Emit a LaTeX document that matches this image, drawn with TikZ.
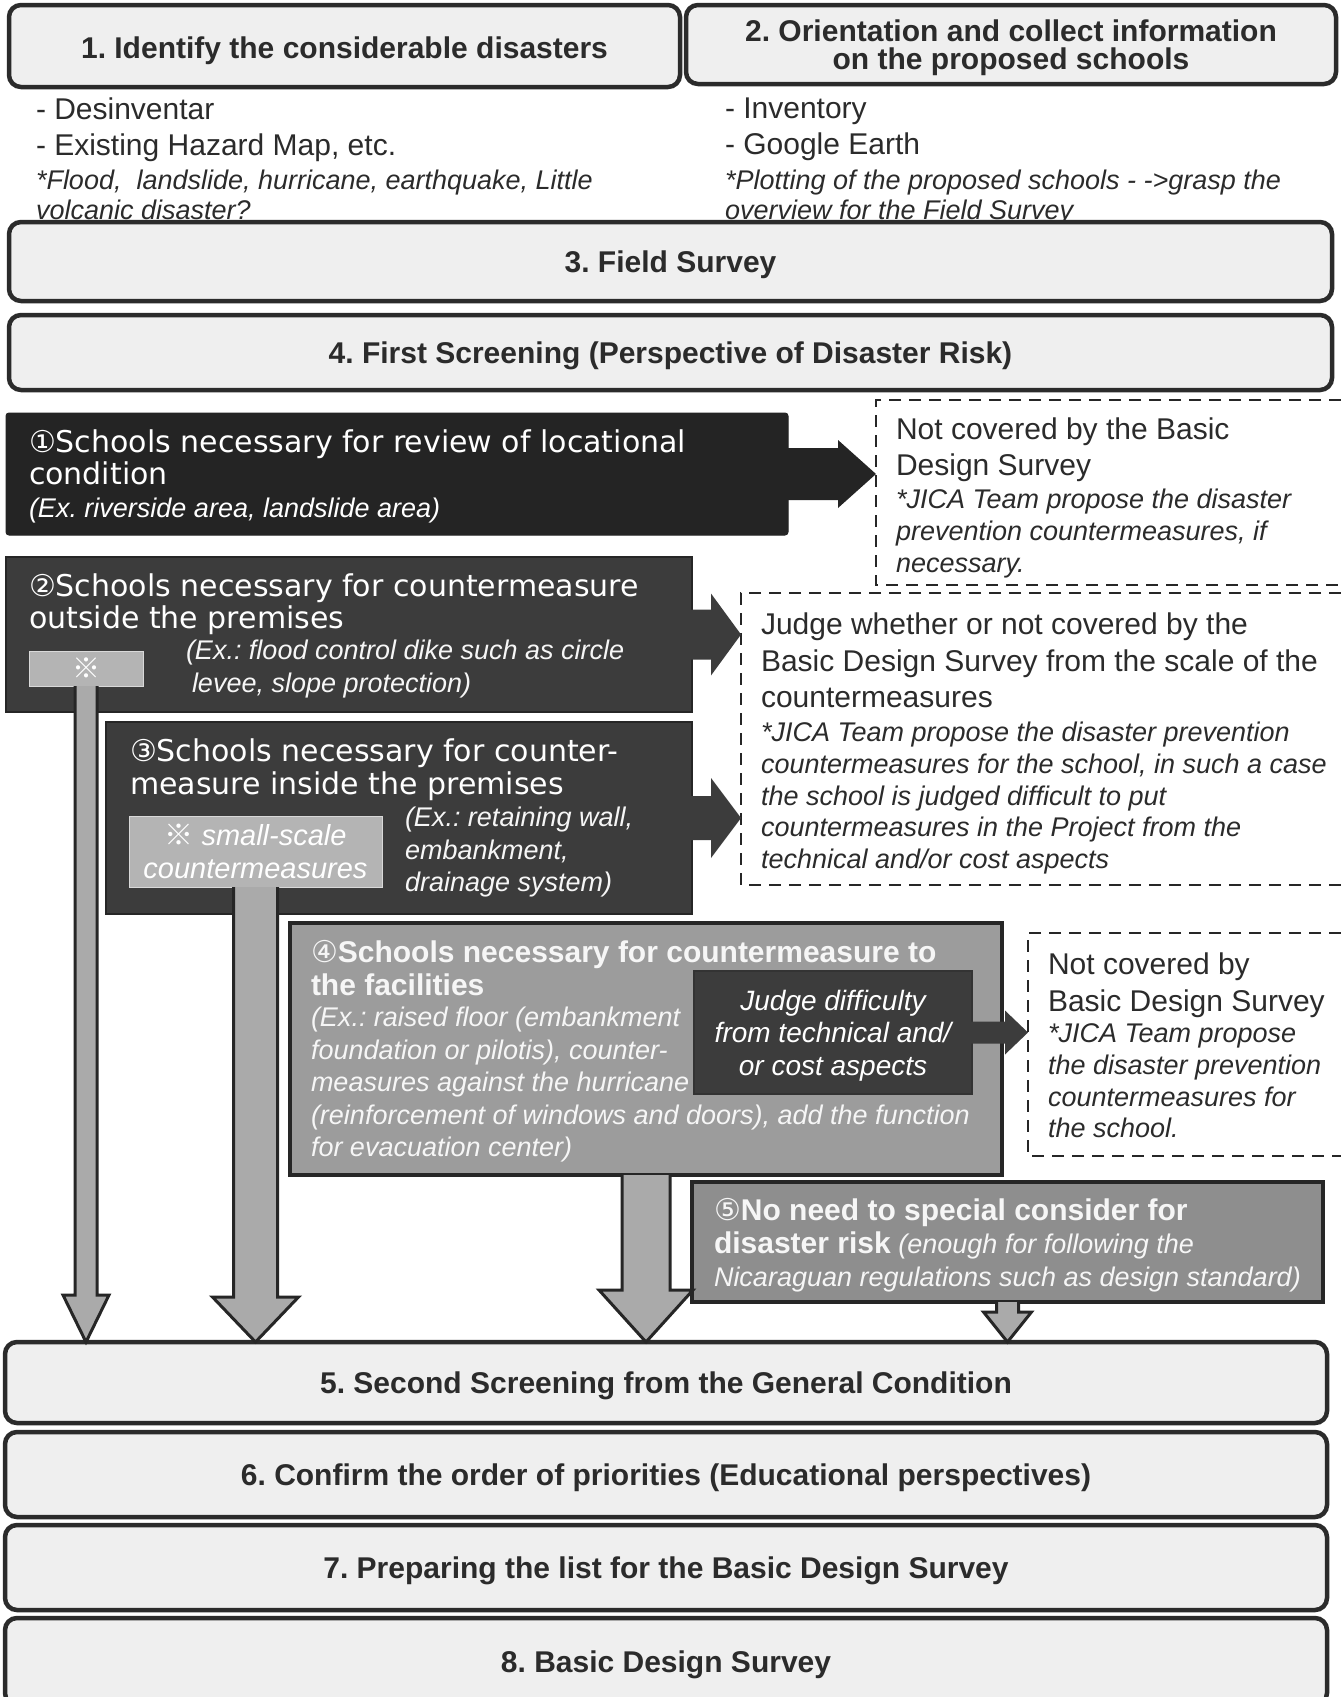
\documentclass[tikz,border=0pt]{standalone}
\usepackage{fontspec}
\setmainfont{Liberation Sans}
\newfontfamily\dejavu{DejaVu Sans}
\newfontfamily\cjkjp{Noto Sans CJK JP}
\usetikzlibrary{calc}
\AtBeginDocument{\frenchspacing}
\definecolor{boxfill}{HTML}{EFEFEF}
\definecolor{boxline}{HTML}{2B2B2B}
\definecolor{dkA}{HTML}{242424}
\definecolor{dkB}{HTML}{3C3C3C}
\definecolor{midgray}{HTML}{9C9C9C}
\definecolor{midgrayB}{HTML}{8E8E8E}
\definecolor{markgray}{HTML}{B4B4B4}
\definecolor{arrowfill}{HTML}{AAAAAA}
\definecolor{txtlight}{HTML}{F6F6F6}
\newcommand\fsz[2]{\fontsize{#1}{#2}\selectfont}
% vertical block arrow: from, to, shaft half, head half, head length
\newcommand\vblk[5]{%
  \filldraw[blkV] let \p1=(#1.south), \p2=(#2.north) in
   (\x1-#3pt,\y1) -- (\x1-#3pt,\y2+#5pt) -- (\x1-#4pt,\y2+#5pt) -- (\x1,\y2)
   -- (\x1+#4pt,\y2+#5pt) -- (\x1+#3pt,\y2+#5pt) -- (\x1+#3pt,\y1);}
% horizontal block arrow: style, from, to, shaft half, head half, head length
\newcommand\hblk[6]{%
  \fill[#1] let \p1=(#2.east), \p2=(#3.west) in
   (\x1-2pt,\y1+#4pt) -- (\x2-#6pt,\y1+#4pt) -- (\x2-#6pt,\y1+#5pt) -- (\x2,\y1)
   -- (\x2-#6pt,\y1-#5pt) -- (\x2-#6pt,\y1-#4pt) -- (\x1-2pt,\y1-#4pt) -- cycle;}
\begin{document}
\begin{tikzpicture}[x=1pt,y=-1pt,
  every node/.style={inner sep=0pt, outer sep=0pt},
  hbox/.style={draw=boxline, line width=4.5pt, rounded corners=12pt, fill=boxfill, text=boxline, font={\fsz{30}{36}\bfseries}, anchor=north west, text depth=0pt},
  darkA/.style={fill=dkA, draw=dkA, line width=1pt, rounded corners=3pt, anchor=north west},
  darkB/.style={fill=dkB, draw=black!85, line width=2pt, anchor=north west},
  midbox/.style={fill=midgray, draw=black!85, line width=4.5pt, anchor=north west},
  midboxB/.style={fill=midgrayB, draw=black!85, line width=4.5pt, anchor=north west},
  judgebox/.style={fill=dkB, draw=black!80, line width=1.5pt, anchor=north west},
  markbox/.style={fill=markgray, draw=black!15, line width=1pt, anchor=north west},
  frame/.style={anchor=north west},
  dashframe/.style={draw=black!85, line width=2.8pt, dash pattern=on 12pt off 8pt},
  reg/.style={anchor=north west, align=left, text=boxline, font={\fsz{30}{36}}},
  ital/.style={anchor=north west, align=left, text=boxline, font={\fsz{27}{32}\itshape}},
  wtitle/.style={anchor=north west, align=left, text=white, font={\dejavu\fsz{30}{32}}},
  witl/.style={anchor=north west, align=left, text=txtlight, font={\fsz{27}{32.5}\itshape}},
  blkV/.style={fill=arrowfill, draw=black!85, line width=3pt, line join=miter},
  blkA/.style={fill=dkA},
  blkB/.style={fill=dkB},
]
\useasboundingbox (0,0) rectangle (1341,1697);
\fill[white] (0,0) rectangle (1341,1697);

% ---- top steps 1 and 2 ----
\node[hbox, minimum width=671pt, minimum height=82pt] (s1) at (9,5) {\raisebox{-3pt}{1. Identify the considerable disasters}};
\node[hbox, minimum width=650pt, minimum height=79pt, align=center, font={\fsz{30}{28}\bfseries}] (s2) at (686,5) {2. Orientation and collect information\\on the proposed schools};

\node[reg] (i1) at (36,98) {- Desinventar\\- Existing Hazard Map, etc.};
\node[ital, font={\fsz{27}{30}\itshape}] (i1b) at (36,170) {*Flood,~ landslide, hurricane, earthquake, Little\\volcanic disaster?};
\node[reg] (i2) at (725,98) {- Inventory\\- Google Earth};
\node[ital, font={\fsz{27}{30}\itshape}] (i2b) at (725,170) {*Plotting of the proposed schools - ->grasp the\\overview for the Field Survey};

\node[hbox, minimum width=1323pt, minimum height=79pt] (s3) at (9,222) {3. Field Survey};
\node[hbox, minimum width=1323pt, minimum height=75pt] (s4) at (9,315) {4. First Screening (Perspective of Disaster Risk)};

% ---- dashed frames ----
\node[frame, minimum width=465pt, minimum height=185pt] (d1) at (876,400) {};
\node[frame, minimum width=600pt, minimum height=292pt] (d2) at (741,593) {};
\node[frame, minimum width=313pt, minimum height=223pt] (d3) at (1028,933) {};
\draw[dashframe] (d1.north east) -- (d1.north west) -- (d1.south west) -- (d1.south east);
\draw[dashframe] (d2.north east) -- (d2.north west) -- (d2.south west) -- (d2.south east);
\draw[dashframe] (d3.north east) -- (d3.north west) -- (d3.south west) -- (d3.south east);

\node[reg] (d1t) at (896,418) {Not covered by the Basic\\Design Survey};
\node[ital] (d1i) at (896,489) {*JICA Team propose the disaster\\prevention countermeasures, if\\necessary.};
\node[reg, font={\fsz{30}{36.5}}] (d2t) at (761,613) {Judge whether or not covered by the\\Basic Design Survey from the scale of the\\countermeasures};
\node[ital, font={\fsz{27}{31.75}\itshape}] (d2i) at (761,722) {*JICA Team propose the disaster prevention\\countermeasures for the school, in such a case\\the school is judged difficult to put\\countermeasures in the Project from the\\technical and/or cost aspects};
\node[reg, font={\fsz{30}{37}}] (d3t) at (1048,953) {Not covered by\\Basic Design Survey};
\node[ital, font={\fsz{27}{31.7}\itshape}] (d3i) at (1048,1024) {*JICA Team propose\\the disaster prevention\\countermeasures for\\the school.};

% ---- box 1 ----
\node[darkA, minimum width=782pt, minimum height=122pt] (b1) at (6,413) {};
\node[wtitle] (b1t) at (29,430) {①Schools necessary for review of locational\\condition};
\node[witl, text=white] (b1i) at (29,498) {(Ex. riverside area, landslide area)};

% ---- box 2 ----
\node[darkB, minimum width=686pt, minimum height=155pt] (b2) at (6,557) {};
\node[wtitle] (b2t) at (29,574) {②Schools necessary for countermeasure\\outside the premises};
\node[witl, font={\fsz{27}{33}\itshape}] (b2i) at (186,640) {(Ex.: flood control dike such as circle\\\hspace*{6pt}levee, slope protection)};
\node[markbox, minimum width=114pt, minimum height=35pt, text=white, font={\cjkjp\fsz{28}{28}}] (sA) at (29,651) {※};

% ---- box 3 ----
\node[darkB, minimum width=586pt, minimum height=192pt] (b3) at (106,722) {};
\node[wtitle, font={\dejavu\fsz{30}{33}}] (b3t) at (130,739) {③Schools necessary for counter-\\measure inside the premises};
\node[witl] (b3i) at (405,807) {(Ex.: retaining wall,\\embankment,\\drainage system)};
\node[markbox, minimum width=253pt, minimum height=71pt, align=center, text=white, font={\fsz{29}{33}\itshape}] (sB) at (129,816) {{\cjkjp\upshape ※} small-scale\\countermeasures};

% ---- box 4 ----
\node[midbox, minimum width=712pt, minimum height=252pt] (b4) at (290,923) {};
\node[anchor=north west, align=left, text=txtlight, font={\fsz{30}{33}\bfseries}] (b4t) at (311,940) {{\dejavu\mdseries ④}Schools necessary for countermeasure to\\the facilities};
\node[witl] (b4i) at (311,1007) {(Ex.: raised floor (embankment\\foundation or pilotis), counter-\\measures against the hurricane\\(reinforcement of windows and doors), add the function\\for evacuation center)};
\node[judgebox, minimum width=278pt, minimum height=123pt, align=center, text=white, font={\fsz{28}{32.5}\itshape}, text depth=0pt] (jd) at (694,971) {Judge difficulty\\from technical and/\\or cost aspects};

% ---- box 5 ----
\node[midboxB, minimum width=631pt, minimum height=120pt] (b5) at (692,1182) {};
\node[anchor=north west, align=left, text=txtlight, font={\fsz{27}{33}\itshape}] (b5t) at (714,1198) {{\fsz{30}{33}\bfseries\upshape{\dejavu\mdseries ⑤}No need to special consider for}\\{\fsz{30}{33}\bfseries\upshape disaster risk} (enough for following the\\Nicaraguan regulations such as design standard)};

% ---- lower steps ----
\node[hbox, minimum width=1322pt, minimum height=81pt] (s5) at (5,1342) {5. Second Screening from the General Condition};
\node[hbox, minimum width=1322pt, minimum height=85pt] (s6) at (5,1432) {6. Confirm the order of priorities (Educational perspectives)};
\node[hbox, minimum width=1322pt, minimum height=85pt] (s7) at (5,1525) {7. Preparing the list for the Basic Design Survey};
\node[hbox, minimum width=1322pt, minimum height=87pt] (s8) at (5,1618) {8. Basic Design Survey};

% ---- horizontal arrows ----
\hblk{blkA}{b1}{d1}{26}{34}{38}
\hblk{blkB}{b2}{d2}{25}{41}{30}
\hblk{blkB}{b3}{d2}{22}{40}{30}
\hblk{blkB}{jd}{d3}{11}{22}{23}

% ---- vertical arrows ----
\vblk{sA}{s5}{11}{23}{47}
\vblk{sB}{s5}{22}{43}{45}
\vblk{b4}{s5}{24}{47}{52}
\vblk{b5}{s5}{11}{24}{30}
\end{tikzpicture}
\end{document}
